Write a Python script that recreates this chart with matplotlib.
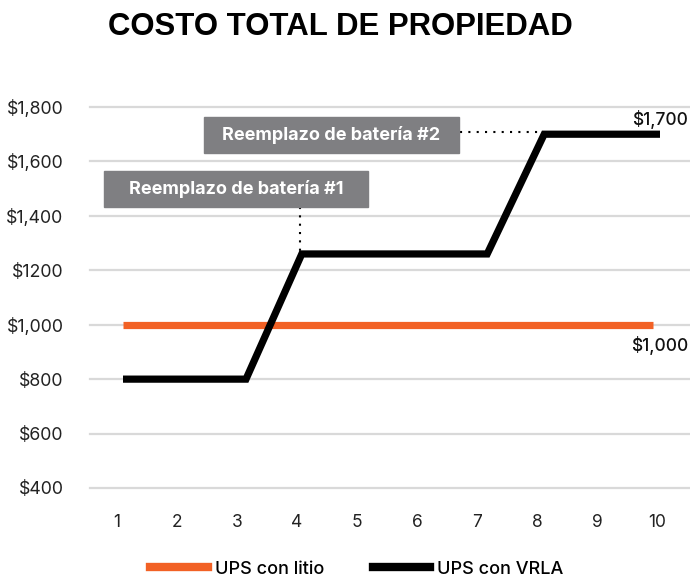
import matplotlib
matplotlib.use("Agg")
import matplotlib.pyplot as plt
from matplotlib.patches import Rectangle
from matplotlib.lines import Line2D

plt.rcParams['font.family'] = ['Inter', 'DejaVu Sans']

# data
years = [1, 2, 3, 4, 5, 6, 7, 8, 9, 10]
y_ticks = [400, 600, 800, 1000, 1200, 1400, 1600, 1800]
y_labels = ["$400", "$600", "$800", "$1,000", "$1200", "$1,400", "$1,600", "$1,800"]
litio_x = [1.1, 9.93]
litio_y = [1000, 1000]
vrla_x = [1.1, 3.15, 4.08, 7.17, 8.12, 10.05]
vrla_y = [800, 800, 1260, 1260, 1700, 1700]

orange = "#f26125"
grey_box = "#7f7f82"
W, H = 690, 579

fig = plt.figure(figsize=(6.9, 5.79), dpi=100)
ax = fig.add_axes([90 / W, 1 - 488 / H, 1 - 90 / W, (488 - 107) / H])
ax.set_xlim(0.55, 10.55)
ax.set_ylim(400, 1800)

for t in y_ticks:
    ax.axhline(t, color="#d9d9d9", lw=1.6, zorder=1, clip_on=False)

ax.plot(litio_x, litio_y, color=orange, lw=5.2, solid_capstyle="butt", zorder=3)
ax.plot(vrla_x, vrla_y, color="black", lw=5.2, solid_capstyle="butt",
        solid_joinstyle="miter", zorder=4, clip_on=False)

# annotation boxes
ax.add_patch(Rectangle((0.78, 1433), 4.4, 132, color=grey_box, zorder=5, clip_on=False))
ax.text(2.98, 1499, "Reemplazo de batería #1", color="white", fontsize=13,
        fontweight="bold", ha="center", va="center", zorder=6)
ax.add_patch(Rectangle((2.45, 1631), 4.25, 132, color=grey_box, zorder=5, clip_on=False))
ax.text(4.575, 1697, "Reemplazo de batería #2", color="white", fontsize=13,
        fontweight="bold", ha="center", va="center", zorder=6)
ax.plot([4.05, 4.05], [1433, 1262], color="black", lw=1.5, ls=(0, (1, 3)), zorder=3)
ax.plot([6.72, 8.1], [1707, 1707], color="black", lw=1.5, ls=(0, (1, 3)), zorder=3)

ax.text(10.52, 1720, "$1,700", fontsize=12.5, fontweight="medium", ha="right",
        va="bottom", color="#111")
ax.text(10.52, 960, "$1,000", fontsize=12.5, fontweight="medium", ha="right",
        va="top", color="#111")

ax.set_xticks(years)
ax.set_xticklabels([str(y) for y in years])
ax.set_yticks(y_ticks)
ax.set_yticklabels(y_labels)
ax.tick_params(axis="y", length=0, pad=19, labelsize=12.8, labelcolor="#222")
ax.tick_params(axis="x", length=0, pad=19, labelsize=12.5, labelcolor="#222")
for s in ax.spines.values():
    s.set_visible(False)

fig.text(340 / W, 1 - 27 / H, "COSTO TOTAL DE PROPIEDAD", fontsize=22.4,
         fontweight="bold", ha="center", va="center", family="Liberation Sans")

handles = [Line2D([], [], color=orange, lw=6), Line2D([], [], color="black", lw=6)]
leg = fig.legend(handles, ["UPS con litio", "UPS con VRLA"], loc="center",
                 bbox_to_anchor=(357 / W, 1 - 569 / H), ncol=2, frameon=False,
                 fontsize=13, handlelength=3.2, columnspacing=2.66,
                 handletextpad=0.39)
for t in leg.get_texts():
    t.set_fontweight("medium")

fig.savefig("out.png", dpi=100)
